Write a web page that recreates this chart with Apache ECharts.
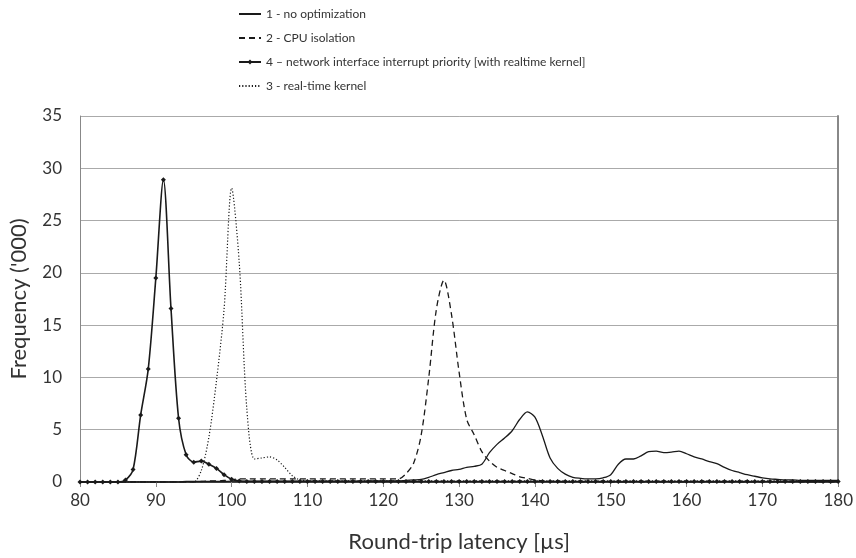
<!DOCTYPE html>
<html>
<head>
<meta charset="utf-8">
<script src="https://cdn.jsdelivr.net/npm/echarts@6/dist/echarts.min.js"></script>
<style>html,body{margin:0;padding:0;background:#fff}#c{width:856px;height:558px}</style>
</head>
<body>
<div id="c"></div>
<script>
// x positions (µs), 80..180 step 1
const latency = [];
for (let v = 80; v <= 180; v++) latency.push(v);

const seriesNames = [
  "1 - no optimization",
  "2 - CPU isolation",
  "4 \u2013 network interface interrupt priority [with realtime kernel]",
  "3 - real-time kernel"
];

// 1 - no optimization (80..180)
const noOptimization = [
  0,0,0,0,0,0,0,0,0,0,            // 80-89
  0,0,0,0,0.05,0.05,0.05,0.05,0.05,0.05, // 90-99
  0.08,0.08,0.08,0.08,0.08,0.08,0.08,0.08,0.08,0.08, // 100-109
  0.08,0.08,0.08,0.08,0.08,0.08,0.08,0.08,0.1,0.1, // 110-119
  0.1,0.1,0.1,0.15,0.2,0.25,0.45,0.7,0.9,1.1, // 120-129
  1.2,1.4,1.5,1.7,2.8,3.6,4.2,4.9,6.0,6.7, // 130-139
  6.2,4.4,2.3,1.3,0.75,0.45,0.35,0.3,0.3,0.4, // 140-149
  0.7,1.7,2.2,2.2,2.5,2.9,2.95,2.8,2.85,2.95, // 150-159
  2.7,2.4,2.2,1.95,1.75,1.4,1.1,0.9,0.7,0.55, // 160-169
  0.4,0.3,0.25,0.2,0.2,0.15,0.15,0.15,0.15,0.15, // 170-179
  0.15                                         // 180
];

// 2 - CPU isolation
const cpuIsolation = [
  0,0,0,0,0,0,0,0,0,0,            // 80-89
  0,0,0,0,0,0,0.05,0.1,0.1,0.15,  // 90-99
  0.2,0.3,0.3,0.3,0.3,0.3,0.3,0.3,0.3,0.3, // 100-109
  0.3,0.3,0.3,0.3,0.3,0.3,0.3,0.3,0.3,0.3, // 110-119
  0.3,0.3,0.3,0.8,1.8,4.5,10,16.5,19.3,16, // 120-129
  10.5,6,4.5,2.9,2.0,1.4,1.1,0.8,0.5,0.35, // 130-139
  0.2,0.1,0.05,0.05,0,0,0,0,0,0,   // 140-149
  0,0,0,0,0,0,0,0,0,0,             // 150-159
  0,0,0,0,0,0,0,0,0,0,             // 160-169
  0,0,0,0,0,0,0,0,0,0,             // 170-179
  0
];

// 4 - network interface interrupt priority [with realtime kernel]
const irqPriority = [
  0,0,0,0,0,0,0.2,1.2,6.4,10.8,   // 80-89
  19.5,28.9,16.6,6.1,2.6,1.9,2.0,1.7,1.3,0.7, // 90-99
  0.26,0.1,0.05,0.05,0.05,0.05,0.05,0.05,0.05,0.05, // 100-109
  0.05,0.05,0.05,0.05,0.05,0.05,0.05,0.05,0.05,0.05, // 110-119
  0.05,0.05,0.05,0.05,0.05,0.05,0.05,0.05,0.05,0.05, // 120-129
  0.05,0.05,0.05,0.05,0.05,0.05,0.05,0.05,0.05,0.05, // 130-139
  0.05,0.05,0.05,0.05,0.05,0.05,0.05,0.05,0.05,0.05, // 140-149
  0.05,0.05,0.05,0.05,0.05,0.05,0.05,0.05,0.05,0.05, // 150-159
  0.05,0.05,0.05,0.05,0.05,0.05,0.05,0.05,0.05,0.05, // 160-169
  0.05,0.05,0.05,0.05,0.05,0.05,0.05,0.05,0.05,0.05, // 170-179
  0.05
];

// 3 - real-time kernel
const realtimeKernel = [
  0,0,0,0,0,0,0,0,0,0,            // 80-89
  0,0,0,0,0,0,1.1,4.3,9.7,16.5,   // 90-99
  28.1,21,7,2.2,2.3,2.4,2.1,1.4,0.6,0.2, // 100-109
  0.15,0.12,0.1,0.1,0.1,0.1,0.1,0.1,0.1,0.1, // 110-119
  0.1,0.1,0.1,0.1,0.1,0.1,0.1,0.1,0.1,0.1, // 120-129
  0.1,0.1,0.1,0.1,0.1,0.1,0.1,0.1,0.1,0.1, // 130-139
  0.1,0.1,0.1,0.1,0.1,0.1,0.1,0.1,0.1,0.1, // 140-149
  0.1,0.1,0.1,0.1,0.1,0.1,0.1,0.1,0.1,0.1, // 150-159
  0.1,0.1,0.1,0.1,0.1,0.1,0.1,0.1,0.1,0.1, // 160-169
  0.1,0.1,0.1,0.1,0.1,0.1,0.1,0.1,0.1,0.1, // 170-179
  0.1
];

const xTicks = { min: 80, max: 180, interval: 10 };
const yTicks = { min: 0, max: 35, interval: 5 };

const pairs = arr => latency.map((x, i) => [x, arr[i]]);
const FONT = "Lato";
const ink = "#1a1a1a";

const chart = echarts.init(document.getElementById('c'), null, { renderer: 'canvas' });
chart.setOption({
  animation: false,
  backgroundColor: '#fff',
  textStyle: { fontFamily: FONT },
  grid: { left: 78, right: 13, top: 116, bottom: 76, containLabel: false },
  legend: {
    orient: 'vertical',
    left: 233,
    top: 3,
    itemWidth: 22,
    itemHeight: 6,
    itemGap: 12,
    textStyle: { fontFamily: FONT, fontSize: 12, color: '#333', padding: [0, 0, 0, 0] },
    data: [
      { name: seriesNames[0], itemStyle: { opacity: 0 } },
      { name: seriesNames[1], itemStyle: { opacity: 0 } },
      { name: seriesNames[2] },
      { name: seriesNames[3], itemStyle: { opacity: 0 } }
    ]
  },
  xAxis: [{
    type: 'value',
    min: xTicks.min, max: xTicks.max, interval: xTicks.interval,
    name: 'Round-trip latency [\u00b5s]',
    nameLocation: 'middle',
    nameGap: 49,
    nameTextStyle: { fontFamily: FONT, fontSize: 22, color: '#333' },
    axisLine: { lineStyle: { color: '#888', width: 1 } },
    axisTick: { show: true, length: 5, lineStyle: { color: '#888' } },
    axisLabel: { fontFamily: FONT, fontSize: 17, color: '#333', margin: 10 },
    splitLine: { show: false }
  }, {
    type: 'value', position: 'top',
    min: xTicks.min, max: xTicks.max, interval: xTicks.interval,
    axisLine: { show: true, lineStyle: { color: '#333', width: 1.5 } },
    axisTick: { show: false }, axisLabel: { show: false }, splitLine: { show: false }
  }],
  yAxis: [{
    type: 'value',
    min: yTicks.min, max: yTicks.max, interval: yTicks.interval,
    name: "Frequency ('000)",
    nameLocation: 'middle',
    nameGap: 50,
    nameRotate: 90,
    nameTextStyle: { fontFamily: FONT, fontSize: 22, color: '#333' },
    axisLine: { show: true, lineStyle: { color: '#888', width: 1 } },
    axisTick: { show: false },
    axisLabel: { fontFamily: FONT, fontSize: 17, color: '#333', margin: 18 },
    splitLine: { show: true, lineStyle: { color: '#aaa', width: 1 } }
  }, {
    type: 'value', position: 'right',
    min: yTicks.min, max: yTicks.max, interval: yTicks.interval,
    axisLine: { show: true, lineStyle: { color: '#888', width: 2 } },
    axisTick: { show: false }, axisLabel: { show: false }, splitLine: { show: false }
  }],
  series: [
    {
      name: seriesNames[0], type: 'line', data: pairs(noOptimization),
      smooth: 0.3, symbol: 'none', z: 2,
      lineStyle: { color: ink, width: 1.3, type: 'solid' }, itemStyle: { color: ink }
    },
    {
      name: seriesNames[1], type: 'line', data: pairs(cpuIsolation),
      smooth: 0.3, symbol: 'none', z: 2,
      lineStyle: { color: ink, width: 1.3, type: [6, 4] }, itemStyle: { color: ink }
    },
    {
      name: seriesNames[2], type: 'line', data: pairs(irqPriority),
      smooth: 0.3, symbol: 'diamond', symbolSize: 5, showSymbol: true, showAllSymbol: true, z: 4,
      lineStyle: { color: ink, width: 1.6, type: 'solid' }, itemStyle: { color: ink }
    },
    {
      name: seriesNames[3], type: 'line', data: pairs(realtimeKernel),
      smooth: 0.3, symbol: 'none', z: 3,
      lineStyle: { color: ink, width: 1.2, type: [1.2, 2] }, itemStyle: { color: ink }
    }
  ]
});
</script>
</body>
</html>
